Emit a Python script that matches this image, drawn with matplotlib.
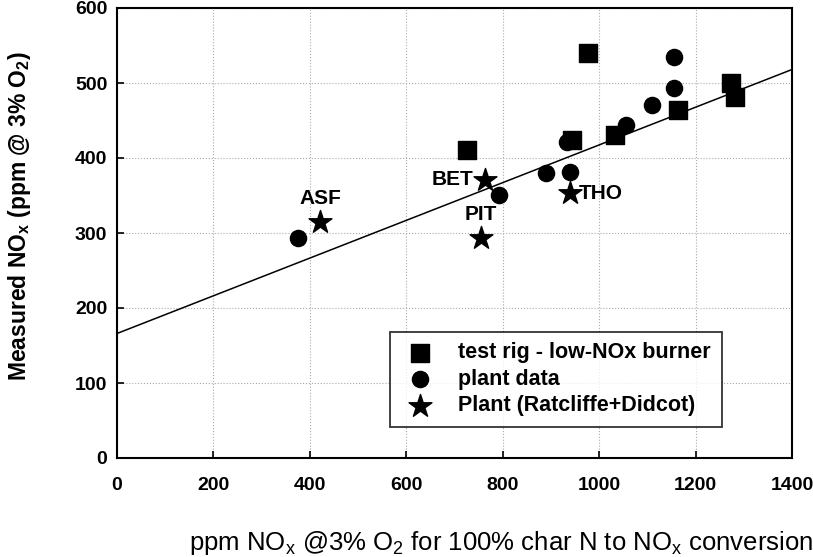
import matplotlib
matplotlib.use("Agg")
import matplotlib.pyplot as plt

plt.rcParams['font.family'] = ['Liberation Sans', 'DejaVu Sans']

# test rig - low-NOx burner
rig_x = [726, 977, 944, 1033, 1164, 1274, 1282]
rig_y = [411, 540, 424, 431, 464, 500, 481]

# plant data
plant_x = [375, 793, 890, 940, 933, 1056, 1110, 1156, 1156]
plant_y = [293, 351, 380, 381, 421, 444, 471, 494, 535]

# Plant (Ratcliffe+Didcot)
rd_names = ['ASF', 'BET', 'PIT', 'THO']
rd_x = [421, 763, 755, 940]
rd_y = [315, 371, 293, 353]

# fitted line
fit_x = [0, 1400]
fit_y = [166, 518]

fig = plt.figure(figsize=(8.13, 5.57), dpi=100)
ax = fig.add_axes([117/813, 1 - 458/557, 675/813, 450/557])

ax.plot(fit_x, fit_y, color='black', lw=1.1, zorder=2)
ax.scatter(rig_x, rig_y, marker='s', s=150, color='black', zorder=3,
           label='test rig - low-NOx burner')
ax.scatter(plant_x, plant_y, marker='o', s=135, color='black', zorder=3,
           label='plant data')
ax.scatter(rd_x, rd_y, marker='*', s=300, color='black', zorder=3,
           label='Plant (Ratcliffe+Didcot)')

offsets = {'ASF': (0, 10, 'center', 'bottom'),
           'BET': (-8, 0, 'right', 'center'),
           'PIT': (0, 10, 'center', 'bottom'),
           'THO': (6, 0, 'left', 'center')}
for n, x, y in zip(rd_names, rd_x, rd_y):
    dx, dy, ha, va = offsets[n]
    ax.annotate(n, (x, y), xytext=(dx, dy), textcoords='offset points',
                ha=ha, va=va, fontsize=15, fontweight='bold')

ax.set_xlim(0, 1400)
ax.set_ylim(0, 600)
ax.set_xticks(range(0, 1401, 200))
ax.set_yticks(range(0, 601, 100))
ax.grid(True, linestyle=':', color='#aaaaaa', lw=0.8)
ax.set_axisbelow(True)
ax.tick_params(direction='in', length=5, width=1.2, labelsize=14)
ax.tick_params(axis='x', pad=14)
ax.tick_params(axis='y', pad=7)
for t in ax.get_xticklabels() + ax.get_yticklabels():
    t.set_fontweight('bold')
for s in ax.spines.values():
    s.set_linewidth(1.5)

ax.set_ylabel('Measured NO$_\\mathregular{x}$ (ppm @ 3% O$_\\mathregular{2}$)',
              fontsize=16.5, fontweight='bold')
ax.yaxis.set_label_coords(-0.145, 0.538)
ax.yaxis.label.set_va('center')
ax.set_xlabel('ppm NO$_\\mathregular{x}$ @3% O$_\\mathregular{2}$ for 100% char N to NO$_\\mathregular{x}$ conversion',
              fontsize=18.5)
ax.xaxis.set_label_coords(0.569, -0.189)
ax.xaxis.label.set_va('center')

leg = ax.legend(loc='lower right', bbox_to_anchor=(0.896, 0.069),
                prop={'weight': 'bold', 'size': 15.5}, frameon=True, fancybox=False,
                edgecolor='black', borderpad=0.5, labelspacing=0.25,
                handlelength=1.8, handletextpad=0.9, scatterpoints=1,
                borderaxespad=0)
leg.get_frame().set_linewidth(1.3)

fig.savefig('out.png', dpi=100)
